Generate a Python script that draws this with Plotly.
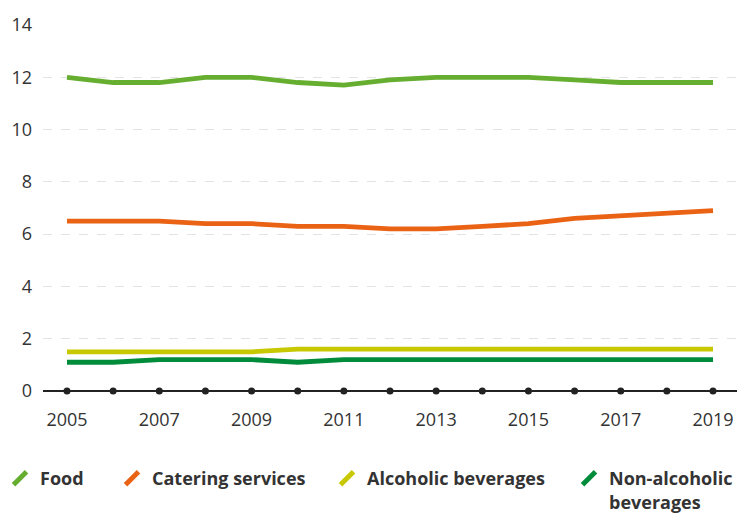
import plotly.graph_objects as go

years = list(range(2005, 2020))
food = [12.0, 11.8, 11.8, 12.0, 12.0, 11.8, 11.7, 11.9, 12.0, 12.0, 12.0, 11.9, 11.8, 11.8, 11.8]
catering = [6.5, 6.5, 6.5, 6.4, 6.4, 6.3, 6.3, 6.2, 6.2, 6.3, 6.4, 6.6, 6.7, 6.8, 6.9]
alcoholic = [1.5, 1.5, 1.5, 1.5, 1.5, 1.6, 1.6, 1.6, 1.6, 1.6, 1.6, 1.6, 1.6, 1.6, 1.6]
non_alcoholic = [1.1, 1.1, 1.2, 1.2, 1.2, 1.1, 1.2, 1.2, 1.2, 1.2, 1.2, 1.2, 1.2, 1.2, 1.2]
x_tick_years = list(range(2005, 2020, 2))
y_ticks = [0, 2, 4, 6, 8, 10, 12, 14]

series = [
    ("Food", food, "#66ae30"),
    ("Catering services", catering, "#ea6213"),
    ("Alcoholic beverages", alcoholic, "#c8c800"),
    ("Non-alcoholic<br>beverages", non_alcoholic, "#008c3a"),
]
legend_ids = ["legend", "legend2", "legend3", "legend4"]
legend_left_px = [0, 112, 327, 569]

W, H = 737, 516
fig = go.Figure()

# year dots on the zero line
fig.add_trace(go.Scatter(x=years, y=[0] * len(years), mode="markers",
                         marker=dict(color="#222222", size=7), showlegend=False,
                         hoverinfo="skip", cliponaxis=False))

for name, vals, color in series:
    fig.add_trace(go.Scatter(x=years, y=vals, mode="lines", name=name,
                             line=dict(color=color, width=4.8), showlegend=False))

for (name, vals, color), lid in zip(series, legend_ids):
    fig.add_trace(go.Scatter(x=[None], y=[None], mode="markers", name=name,
                             legend=lid,
                             marker=dict(symbol="line-ne", size=13,
                                         line=dict(color=color, width=5)),
                             showlegend=True))

legend_style = dict(orientation="h", xanchor="left", xref="container",
                    y=1 - 460 / H, yanchor="top", yref="container",
                    font=dict(size=18, color="#333333", weight="bold"),
                    itemwidth=30, valign="top", bgcolor="rgba(0,0,0,0)")

legends = {}
for lid, px in zip(legend_ids, legend_left_px):
    legends[lid] = dict(legend_style, x=px / W)

fig.update_layout(
    width=W, height=H,
    margin=dict(l=43, r=0, t=25, b=125, autoexpand=False),
    plot_bgcolor="white", paper_bgcolor="white",
    font=dict(family="Open Sans, Noto Sans, sans-serif", size=18, color="#333333"),
    xaxis=dict(range=[2004.48, 2019.52], tickvals=x_tick_years,
               ticktext=[str(y) for y in x_tick_years], showgrid=False,
               zeroline=False, showline=False, ticks="outside", ticklen=12,
               tickcolor="rgba(0,0,0,0)", automargin=False,
               tickfont=dict(size=18, color="#333333")),
    yaxis=dict(range=[0, 14], tickvals=y_ticks, showgrid=True,
               gridcolor="#e3e3e3", griddash="dash", gridwidth=1,
               zeroline=True, zerolinecolor="#222222", zerolinewidth=1.5,
               showline=False, ticks="", ticklabelstandoff=10, automargin=False,
               tickfont=dict(size=18, color="#333333")),
    showlegend=True,
    **legends,
)

fig.write_html("out.html", config={"displayModeBar": False})
with open("out.html", "r", encoding="utf-8") as f:
    html = f.read()
html = html.replace("<body>", '<body style="margin:0">', 1)
with open("out.html", "w", encoding="utf-8") as f:
    f.write(html)
